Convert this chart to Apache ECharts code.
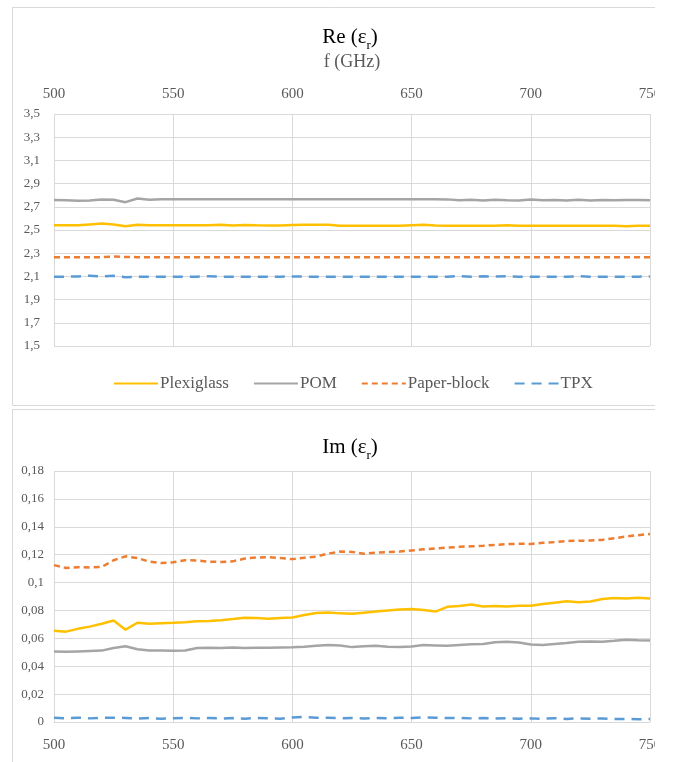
<!DOCTYPE html>
<html>
<head>
<meta charset="utf-8">
<script src="https://cdn.jsdelivr.net/npm/echarts@6/dist/echarts.min.js"></script>
<style>
  html, body { margin: 0; padding: 0; background: #ffffff; }
  #wrap { width: 673px; height: 762px; position: relative; overflow: hidden; }
  #chart { width: 655px; height: 762px; position: absolute; left: 0; top: 0; }
</style>
</head>
<body>
<div id="wrap"><div id="chart"></div></div>
<script>
// Frequency grid, GHz
const freq = [500,505,510,515,520,525,530,535,540,545,550,555,560,565,570,575,580,585,590,595,
  600,605,610,615,620,625,630,635,640,645,650,655,660,665,670,675,680,685,690,695,
  700,705,710,715,720,725,730,735,740,745,750];

const seriesNames = ['Plexiglass', 'POM', 'Paper-block', 'TPX'];

// Real part of permittivity
const rePlexiglass = [2.540,2.541,2.540,2.548,2.555,2.548,2.532,2.545,2.540,2.542,2.541,2.541,2.541,2.540,2.545,2.538,2.544,2.540,2.539,2.539,
  2.544,2.546,2.546,2.546,2.537,2.537,2.537,2.537,2.537,2.537,2.542,2.545,2.538,2.537,2.537,2.537,2.537,2.537,2.542,2.537,
  2.537,2.537,2.537,2.537,2.537,2.537,2.537,2.537,2.532,2.537,2.537];
const rePOM = [2.758,2.756,2.752,2.754,2.762,2.760,2.740,2.772,2.760,2.765,2.765,2.765,2.765,2.765,2.765,2.765,2.765,2.765,2.765,2.765,
  2.765,2.765,2.765,2.765,2.765,2.765,2.765,2.765,2.765,2.765,2.765,2.765,2.765,2.764,2.756,2.760,2.755,2.761,2.757,2.755,
  2.762,2.756,2.758,2.754,2.760,2.755,2.759,2.756,2.758,2.758,2.757];
const rePaper = [2.266,2.266,2.266,2.266,2.266,2.271,2.267,2.266,2.266,2.266,2.266,2.266,2.266,2.266,2.266,2.266,2.266,2.266,2.266,2.266,
  2.266,2.266,2.266,2.266,2.266,2.266,2.266,2.266,2.266,2.266,2.266,2.266,2.266,2.266,2.266,2.266,2.266,2.266,2.266,2.266,
  2.266,2.266,2.266,2.266,2.266,2.266,2.266,2.266,2.266,2.266,2.265];
const reTPX = [2.097,2.097,2.100,2.106,2.099,2.105,2.092,2.097,2.097,2.098,2.098,2.098,2.098,2.101,2.098,2.098,2.098,2.098,2.098,2.098,
  2.100,2.098,2.098,2.098,2.098,2.098,2.098,2.098,2.098,2.098,2.098,2.098,2.098,2.098,2.102,2.098,2.101,2.098,2.102,2.098,
  2.098,2.098,2.098,2.098,2.101,2.098,2.098,2.098,2.098,2.098,2.100];

// Imaginary part of permittivity
const imPlexiglass = [0.0655,0.0648,0.0668,0.0684,0.0705,0.0728,0.0662,0.0712,0.0705,0.0709,0.0712,0.0716,0.0722,0.0725,0.0730,0.0738,0.0748,0.0745,0.0740,0.0746,
  0.0750,0.0767,0.0781,0.0785,0.0779,0.0776,0.0784,0.0792,0.0800,0.0806,0.0810,0.0803,0.0792,0.0826,0.0832,0.0843,0.0828,0.0832,0.0829,0.0834,
  0.0834,0.0846,0.0856,0.0866,0.0858,0.0864,0.0882,0.0889,0.0885,0.0891,0.0886];
const imPOM = [0.0505,0.0503,0.0506,0.0509,0.0512,0.0530,0.0543,0.0522,0.0513,0.0512,0.0511,0.0513,0.0530,0.0532,0.0531,0.0534,0.0530,0.0533,0.0532,0.0534,
  0.0536,0.0540,0.0547,0.0552,0.0549,0.0537,0.0543,0.0546,0.0539,0.0537,0.0542,0.0552,0.0549,0.0546,0.0552,0.0557,0.0560,0.0572,0.0576,0.0570,
  0.0556,0.0553,0.0560,0.0566,0.0575,0.0578,0.0576,0.0582,0.0589,0.0586,0.0585];
const imPaper = [0.1125,0.1105,0.1110,0.1108,0.1112,0.1160,0.1188,0.1176,0.1150,0.1140,0.1145,0.1160,0.1158,0.1150,0.1148,0.1152,0.1172,0.1180,0.1182,0.1176,
  0.1168,0.1178,0.1186,0.1208,0.1222,0.1220,0.1206,0.1215,0.1218,0.1222,0.1230,0.1238,0.1245,0.1250,0.1256,0.1260,0.1264,0.1270,0.1276,0.1278,
  0.1277,0.1285,0.1290,0.1298,0.1300,0.1301,0.1306,0.1318,0.1330,0.1340,0.1348];
const imTPX = [0.0030,0.0027,0.0031,0.0026,0.0030,0.0031,0.0029,0.0025,0.0028,0.0024,0.0027,0.0030,0.0026,0.0029,0.0025,0.0028,0.0024,0.0029,0.0027,0.0023,
  0.0032,0.0036,0.0031,0.0030,0.0027,0.0029,0.0025,0.0028,0.0026,0.0031,0.0029,0.0033,0.0031,0.0028,0.0030,0.0026,0.0028,0.0025,0.0027,0.0024,
  0.0026,0.0023,0.0027,0.0022,0.0026,0.0024,0.0025,0.0021,0.0022,0.0020,0.0021];

const colors = { 'Plexiglass': '#FFC000', 'POM': '#A5A5A5', 'Paper-block': '#ED7D31', 'TPX': '#5B9BD5' };
const dashes = { 'Plexiglass': 'solid', 'POM': 'solid', 'Paper-block': [6, 4], 'TPX': [10, 7] };

const serif = "'Liberation Serif', 'Times New Roman', serif";
const labelGrey = '#595959';
const gridGrey = '#d9d9d9';

function pairs(values) {
  return freq.map((f, i) => [f, values[i]]);
}
function commaNum(v, digits) {
  return String(+v.toFixed(digits)).replace('.', ',');
}
function makeSeries(name, values, gridIdx) {
  return {
    name: name,
    type: 'line',
    xAxisIndex: gridIdx,
    yAxisIndex: gridIdx,
    data: pairs(values),
    symbol: 'none',
    showSymbol: false,
    smooth: false,
    animation: false,
    lineStyle: { color: colors[name], width: 2.5, type: dashes[name] },
    itemStyle: { color: colors[name] }
  };
}

const chart = echarts.init(document.getElementById('chart'), null, { renderer: 'canvas' });

const titleRich = {
  a: { fontFamily: serif, fontSize: 21, color: labelGrey, lineHeight: 24 },
  s: { fontFamily: serif, fontSize: 13, color: labelGrey, lineHeight: 24, verticalAlign: 'bottom', padding: [0, 0, -3, 0] }
};

chart.setOption({
  animation: false,
  backgroundColor: '#ffffff',
  graphic: [
    { type: 'rect', shape: { x: 12.5, y: 7.5, width: 720, height: 398 }, style: { fill: 'none', stroke: gridGrey, lineWidth: 1 }, silent: true, z: -10 },
    { type: 'rect', shape: { x: 12.5, y: 409.5, width: 720, height: 420 }, style: { fill: 'none', stroke: gridGrey, lineWidth: 1 }, silent: true, z: -10 },
    { type: 'text', x: 350, y: 37, style: { text: '{a|Re (ε}{s|r}{a|)}', rich: titleRich, align: 'center', verticalAlign: 'middle' }, silent: true },
    { type: 'text', x: 350, y: 447, style: { text: '{a|Im (ε}{s|r}{a|)}', rich: titleRich, align: 'center', verticalAlign: 'middle' }, silent: true }
  ],
  legend: {
    data: seriesNames,
    top: 370,
    left: 108,
    itemWidth: 44,
    itemHeight: 10,
    itemGap: 24,
    itemStyle: { opacity: 0 },
    textStyle: { fontFamily: serif, fontSize: 17, color: labelGrey, padding: [0, 0, 0, -3] }
  },
  grid: [
    { left: 54, right: 5, top: 114, height: 232, outerBoundsMode: 'none', containLabel: false },
    { left: 54, right: 5, top: 471, height: 251, outerBoundsMode: 'none', containLabel: false }
  ],
  xAxis: [
    {
      type: 'value', gridIndex: 0, position: 'top', min: 500, max: 750, interval: 50,
      name: 'f (GHz)', nameLocation: 'middle', nameGap: 43,
      nameTextStyle: { fontFamily: serif, fontSize: 18, color: labelGrey },
      axisLine: { show: false }, axisTick: { show: false },
      axisLabel: { fontFamily: serif, fontSize: 15, color: labelGrey, margin: 12 },
      splitLine: { show: true, lineStyle: { color: gridGrey, width: 1 } }
    },
    {
      type: 'value', gridIndex: 1, position: 'bottom', min: 500, max: 750, interval: 50,
      axisLine: { show: true, lineStyle: { color: gridGrey, width: 1 } }, axisTick: { show: false },
      axisLabel: { fontFamily: serif, fontSize: 15, color: labelGrey, margin: 16 },
      splitLine: { show: true, lineStyle: { color: gridGrey, width: 1 } }
    }
  ],
  yAxis: [
    {
      type: 'value', gridIndex: 0, min: 1.5, max: 3.5, interval: 0.2,
      axisLine: { show: false }, axisTick: { show: false },
      axisLabel: { fontFamily: serif, fontSize: 13, color: labelGrey, margin: 14, formatter: v => commaNum(v, 1) },
      splitLine: { show: true, lineStyle: { color: gridGrey, width: 1 } }
    },
    {
      type: 'value', gridIndex: 1, min: 0, max: 0.18, interval: 0.02,
      axisLine: { show: false }, axisTick: { show: false },
      axisLabel: { fontFamily: serif, fontSize: 13, color: labelGrey, margin: 10, formatter: v => commaNum(v, 2) },
      splitLine: { show: true, lineStyle: { color: gridGrey, width: 1 } }
    }
  ],
  series: [
    makeSeries('Plexiglass', rePlexiglass, 0),
    makeSeries('POM', rePOM, 0),
    makeSeries('Paper-block', rePaper, 0),
    makeSeries('TPX', reTPX, 0),
    makeSeries('Plexiglass', imPlexiglass, 1),
    makeSeries('POM', imPOM, 1),
    makeSeries('Paper-block', imPaper, 1),
    makeSeries('TPX', imTPX, 1)
  ]
});
</script>
</body>
</html>
